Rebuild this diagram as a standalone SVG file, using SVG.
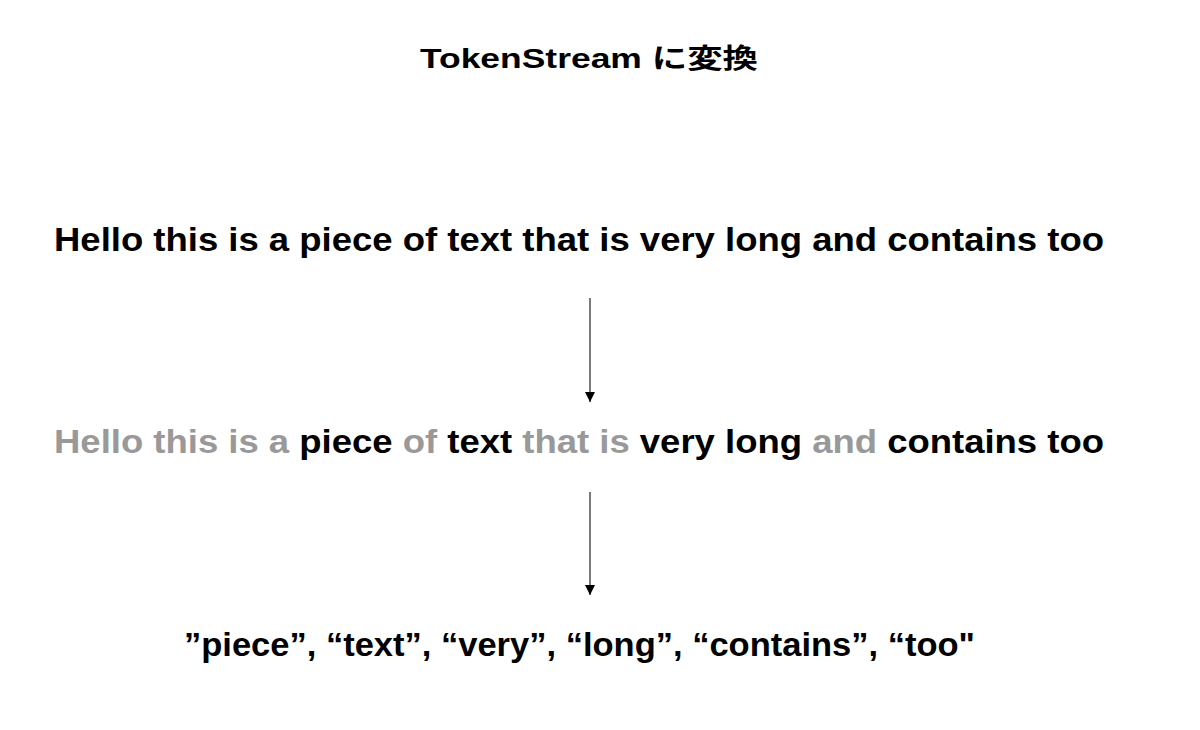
<svg xmlns="http://www.w3.org/2000/svg" width="1200" height="730" viewBox="0 0 1200 730">
<defs>
<style>
.t{font-family:"Liberation Sans","Noto Sans CJK JP",sans-serif;font-weight:bold;fill:#000}
.g{fill:#999}
.c{stroke:#333;stroke-width:1.3;fill:none}
</style>
<marker id="ah" markerWidth="10" markerHeight="10" refX="8" refY="4" orient="auto" markerUnits="userSpaceOnUse" viewBox="0 0 8 8">
<path d="M0,0 L8,4 L0,8 z" fill="#000"/>
</marker>
</defs>
<rect width="1200" height="730" fill="#fff"/>
<g id="title"><text class="t" x="420" y="68" font-size="27" textLength="338" lengthAdjust="spacingAndGlyphs">TokenStream に変換</text></g>
<g id="input"><text class="t" x="54" y="251" font-size="34" textLength="1050" lengthAdjust="spacingAndGlyphs">Hello this is a piece of text that is very long and contains too</text></g>
<g id="filtered"><text class="t" x="54" y="453" font-size="34" textLength="1050" lengthAdjust="spacingAndGlyphs"><tspan class="g">Hello this is a</tspan> piece <tspan class="g">of</tspan> text <tspan class="g">that is</tspan> very long <tspan class="g">and</tspan> contains too</text></g>
<g id="tokens"><text class="t" x="184" y="656" font-size="34" textLength="791" lengthAdjust="spacingAndGlyphs">”piece”, “text”, “very”, “long”, “contains”, “too"</text></g>
<g id="connectors">
<line class="c" x1="590" y1="298" x2="590" y2="402" marker-end="url(#ah)"/>
<line class="c" x1="590" y1="492" x2="590" y2="595" marker-end="url(#ah)"/>
</g>
</svg>
